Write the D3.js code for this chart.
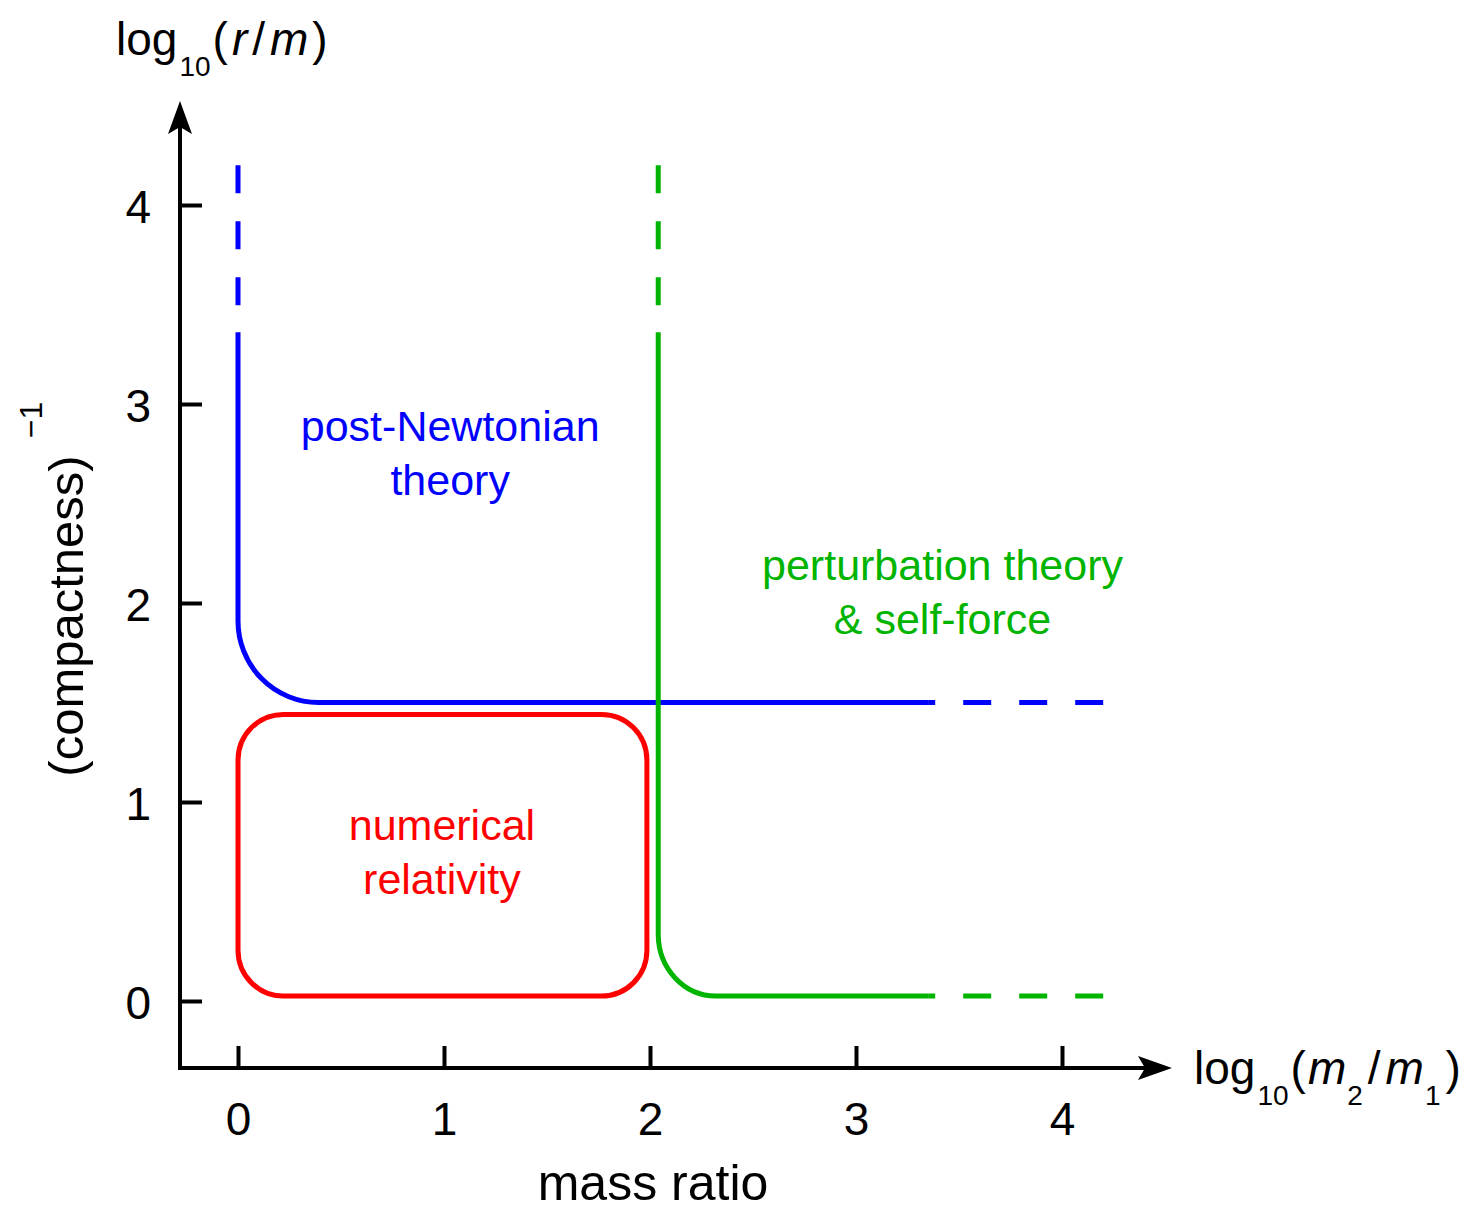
<!DOCTYPE html>
<html>
<head>
<meta charset="utf-8">
<script src="https://cdn.jsdelivr.net/npm/d3@7"></script>
<style>
  html, body { margin: 0; padding: 0; background: #fff; }
  svg { display: block; font-family: "Liberation Sans", Arial, Helvetica, sans-serif; }
</style>
</head>
<body>
<svg id="chart" width="1476" height="1210"></svg>
<script>
// Tick values for both axes
const xTicks = [0, 1, 2, 3, 4];
const yTicks = [0, 1, 2, 3, 4];

// post-Newtonian domain boundary: solid part (with one rounded corner) and dashed extensions
const pnSolid = [[0, 3.36], [0, 1.5], [3.35, 1.5]];
const pnCorner = [0.39, 0.41];
const pnDashed = [
  [[0, 4.2], [0, 3.36]],
  [[4.2, 1.5], [3.35, 1.5]]
];

// perturbation theory / self-force boundary
const ptSolid = [[2.04, 3.36], [2.04, 0.025], [3.35, 0.025]];
const ptCorner = [0.28, 0.31];
const ptDashed = [
  [[2.04, 4.2], [2.04, 3.36]],
  [[4.2, 0.025], [3.35, 0.025]]
];

// numerical relativity region (rounded rectangle)
const nrBox = [[0, 1.44], [1.985, 1.44], [1.985, 0.025], [0, 0.025]];
const nrCorner = [0.22, 0.23];

// Region labels
const regionLabels = [
  { lines: ["post-Newtonian", "theory"], x: 1.03, y: 2.815, color: "#0000ff" },
  { lines: ["perturbation theory", "& self-force"], x: 3.42, y: 2.115, color: "#00b400" },
  { lines: ["numerical", "relativity"], x: 0.99, y: 0.81, color: "#ff0000" }
];

const svg = d3.select("#chart");

const x = d3.scaleLinear().domain([0, 4]).range([238, 1062]);
const y = d3.scaleLinear().domain([0, 4]).range([1001, 205]);

const axisX0 = 180;   // pixel x of the vertical axis line
const axisY0 = 1068;  // pixel y of the horizontal axis line
const AXIS_W = 4;
const LINE_W = 5;
const FONT = "'Liberation Sans', Arial, Helvetica, sans-serif";

// Polyline through pts with rounded corners (elliptical, radii in data units)
function roundedPath(pts, r, closed) {
  const rxp = Math.abs(x(r[0]) - x(0));
  const ryp = Math.abs(y(0) - y(r[1]));
  const P = pts.map(p => [x(p[0]), y(p[1])]);
  const n = P.length;
  const unit = (a, b) => {
    const dx = b[0] - a[0], dy = b[1] - a[1];
    const len = Math.hypot(dx, dy);
    return [dx / len, dy / len];
  };
  const offs = (c, u, sgn) => [c[0] + sgn * u[0] * rxp, c[1] + sgn * u[1] * ryp];
  let d = "";
  const corners = closed ? P.map((_, i) => i) : d3.range(1, n - 1);
  if (!closed) d += `M${P[0][0]},${P[0][1]}`;
  corners.forEach((i, k) => {
    const prev = P[(i - 1 + n) % n], c = P[i], next = P[(i + 1) % n];
    const uin = unit(prev, c), uout = unit(c, next);
    const a = offs(c, uin, -1);
    const b = offs(c, uout, 1);
    const cross = uin[0] * uout[1] - uin[1] * uout[0];
    const sweep = cross > 0 ? 1 : 0;
    d += (k === 0 && closed) ? `M${a[0]},${a[1]}` : `L${a[0]},${a[1]}`;
    d += `A${rxp},${ryp} 0 0 ${sweep} ${b[0]},${b[1]}`;
  });
  if (closed) d += "Z";
  else d += `L${P[n - 1][0]},${P[n - 1][1]}`;
  return d;
}

const line = d3.line().x(d => x(d[0])).y(d => y(d[1]));

// --- region boundaries ---
const curves = svg.append("g").attr("fill", "none").attr("stroke-width", LINE_W);

curves.append("path")
  .attr("d", roundedPath(nrBox, nrCorner, true))
  .attr("stroke", "#ff0000");

function boundary(solid, corner, dashed, color) {
  curves.append("path").attr("d", roundedPath(solid, corner, false)).attr("stroke", color);
  dashed.forEach(seg => {
    curves.append("path").attr("d", line(seg))
      .attr("stroke", color)
      .attr("stroke-dasharray", "28,28");
  });
}
boundary(pnSolid, pnCorner, pnDashed, "#0000ff");
boundary(ptSolid, ptCorner, ptDashed, "#00b400");

// --- axes ---
const fmt = d3.format("d");
const xAxis = d3.axisBottom(x).tickValues(xTicks).tickFormat(fmt)
  .tickSizeInner(-22).tickSizeOuter(0).tickPadding(34);
const gx = svg.append("g").attr("transform", `translate(0,${axisY0})`).call(xAxis);
const yAxis = d3.axisLeft(y).tickValues(yTicks).tickFormat(fmt)
  .tickSizeInner(-22).tickSizeOuter(0).tickPadding(29);
const gy = svg.append("g").attr("transform", `translate(${axisX0},0)`).call(yAxis);

[gx, gy].forEach(g => {
  g.select(".domain").remove();
  g.selectAll(".tick line").attr("stroke", "#000").attr("stroke-width", AXIS_W);
  g.selectAll(".tick text")
    .attr("fill", "#000")
    .style("font-size", "46px")
    .style("font-family", FONT);
});
gy.selectAll(".tick text").attr("dy", "0.38em");

// axis lines with arrowheads
svg.append("line")
  .attr("x1", axisX0 - 2).attr("y1", axisY0)
  .attr("x2", 1145).attr("y2", axisY0)
  .attr("stroke", "#000").attr("stroke-width", AXIS_W);
svg.append("line")
  .attr("x1", axisX0).attr("y1", axisY0 + 2)
  .attr("x2", axisX0).attr("y2", 126)
  .attr("stroke", "#000").attr("stroke-width", AXIS_W);

svg.append("path")
  .attr("d", `M1172,${axisY0} L1138,${axisY0 - 12} L1145,${axisY0} L1138,${axisY0 + 12} Z`)
  .attr("fill", "#000");
svg.append("path")
  .attr("d", `M${axisX0},101 L${axisX0 - 12},134 L${axisX0},127 L${axisX0 + 12},134 Z`)
  .attr("fill", "#000");

// --- axis titles (math-style spacing around the slash) ---
const yTitle = svg.append("text").attr("x", 116).attr("y", 55)
  .attr("fill", "#000").style("font-size", "46px");
yTitle.append("tspan").text("log");
yTitle.append("tspan").attr("dy", 21).attr("dx", 2).style("font-size", "28px").text("10");
yTitle.append("tspan").attr("dy", -21).attr("dx", 2).text("(");
yTitle.append("tspan").attr("dx", 4).style("font-style", "italic").text("r");
yTitle.append("tspan").attr("dx", 5).text("/");
yTitle.append("tspan").attr("dx", 5).style("font-style", "italic").text("m");
yTitle.append("tspan").attr("dx", 4).text(")");

const xTitle = svg.append("text").attr("x", 1194).attr("y", 1084)
  .attr("fill", "#000").style("font-size", "46px");
xTitle.append("tspan").text("log");
xTitle.append("tspan").attr("dy", 21).attr("dx", 2).style("font-size", "28px").text("10");
xTitle.append("tspan").attr("dy", -21).attr("dx", 2).text("(");
xTitle.append("tspan").attr("dx", 2).style("font-style", "italic").text("m");
xTitle.append("tspan").attr("dy", 21).attr("dx", 1).style("font-size", "28px").text("2");
xTitle.append("tspan").attr("dy", -21).attr("dx", 5).text("/");
xTitle.append("tspan").attr("dx", 5).style("font-style", "italic").text("m");
xTitle.append("tspan").attr("dy", 21).attr("dx", 1).style("font-size", "28px").text("1");
xTitle.append("tspan").attr("dy", -21).attr("dx", 5).text(")");

svg.append("text")
  .attr("x", 653).attr("y", 1200)
  .attr("text-anchor", "middle")
  .attr("fill", "#000").style("font-size", "50px")
  .text("mass ratio");

svg.append("text")
  .attr("transform", "translate(83,616) rotate(-90)")
  .attr("text-anchor", "middle")
  .attr("fill", "#000").style("font-size", "49px")
  .text("(compactness)");
svg.append("text")
  .attr("transform", "translate(42,420) rotate(-90)")
  .attr("text-anchor", "middle")
  .attr("fill", "#000").style("font-size", "32px")
  .text("\u22121");

// --- region labels ---
regionLabels.forEach(lb => {
  const t = svg.append("text")
    .attr("x", x(lb.x)).attr("y", y(lb.y))
    .attr("text-anchor", "middle")
    .attr("fill", lb.color)
    .style("font-size", "43px");
  lb.lines.forEach((s, i) => {
    t.append("tspan").attr("x", x(lb.x)).attr("dy", i === 0 ? 0 : 54).text(s);
  });
});
</script>
</body>
</html>
